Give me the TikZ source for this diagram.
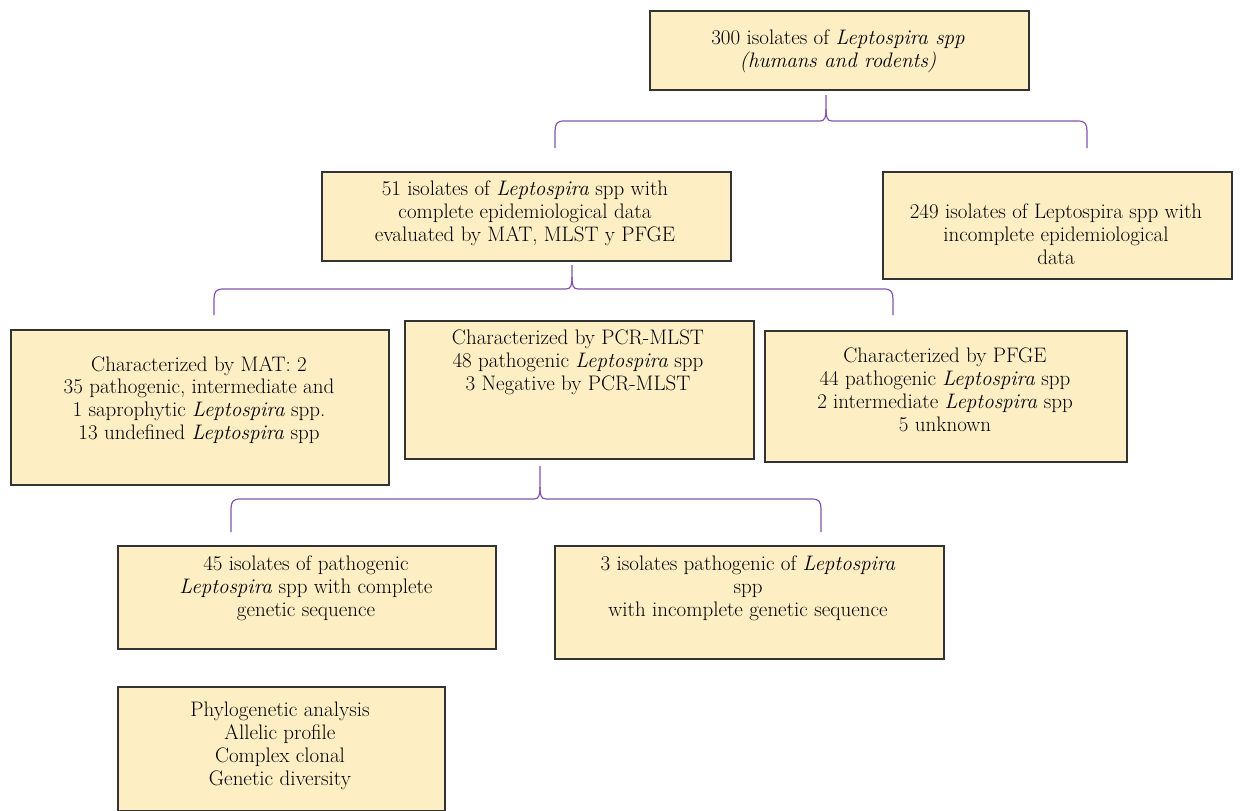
\documentclass[tikz,border=0pt]{standalone}
\usetikzlibrary{calc}
\definecolor{boxfill}{HTML}{FDEEC4}
\definecolor{boxline}{HTML}{333333}
\definecolor{bracecol}{HTML}{7E55AE}
\begin{document}
\begin{tikzpicture}[x=1pt,y=-1pt,
  box/.style={draw=boxline,line width=1.5pt,fill=boxfill,inner sep=0pt,anchor=north west},
  txt/.style={align=center,inner sep=0pt,font=\fontsize{21}{22.8}\selectfont},
  brace/.style={draw=bracecol,line width=1.2pt}]
\useasboundingbox (0,0) rectangle (1259,811);
% boxes
\node[box,minimum width=379pt,minimum height=79pt] (b0) at (649,10) {};
\node[box,minimum width=409pt,minimum height=89pt] (b1) at (321,171) {};
\node[box,minimum width=349pt,minimum height=107pt] (b2) at (882,171) {};
\node[box,minimum width=378pt,minimum height=155pt] (b3) at (10,329) {};
\node[box,minimum width=349pt,minimum height=138pt] (b4) at (404,320) {};
\node[box,minimum width=362pt,minimum height=131pt] (b5) at (764,330) {};
\node[box,minimum width=378pt,minimum height=103pt] (b6) at (117,545) {};
\node[box,minimum width=389pt,minimum height=113pt] (b7) at (554,545) {};
\node[box,minimum width=327pt,minimum height=124pt] (b8) at (117,686) {};
% texts
\node[txt] (t0) at (838,51) {300 isolates of \textit{Leptospira spp}\\\textit{(humans and rodents)}};
\node[txt] (t1) at (525,213) {51 isolates of \textit{Leptospira} spp with\\complete epidemiological data\\evaluated by MAT, MLST y PFGE};
\node[txt] (t2) at (1056,234) {249 isolates of Leptospira spp with\\incomplete epidemiological\\data};
\node[txt] (t3) at (199,400) {Characterized by MAT: 2\\35 pathogenic, intermediate and\\1 saprophytic \textit{Leptospira} spp.\\13 undefined \textit{Leptospira} spp};
\node[txt] (t4) at (578,362) {Characterized by PCR-MLST\\48 pathogenic \textit{Leptospira} spp\\3 Negative by PCR-MLST};
\node[txt] (t5) at (945,390) {Characterized by PFGE\\44 pathogenic \textit{Leptospira} spp\\2 intermediate \textit{Leptospira} spp\\5 unknown};
\node[txt] (t6) at (306,588) {45 isolates of pathogenic\\\textit{Leptospira} spp with complete\\genetic sequence};
\node[txt] (t7) at (748,588) {3 isolates pathogenic of \textit{Leptospira}\\spp\\with incomplete genetic sequence};
\node[txt] (t8) at (280,746) {Phylogenetic analysis\\Allelic profile\\Complex clonal\\Genetic diversity};
% braces
\newcommand{\mybrace}[6]{% cx, ty, hy, xl, xr, by
  \draw[brace] (#4,#6) -- (#4,#3+10) .. controls (#4,#3+3) and (#4+2,#3) .. (#4+9,#3)
    -- (#1-6,#3) .. controls (#1-1,#3) and (#1,#3-4) .. (#1,#3-12) -- (#1,#2);
  \draw[brace] (#5,#6) -- (#5,#3+10) .. controls (#5,#3+3) and (#5-2,#3) .. (#5-9,#3)
    -- (#1+6,#3) .. controls (#1+1,#3) and (#1,#3-4) .. (#1,#3-12);
}
\mybrace{826}{95}{121}{555}{1087}{148}
\mybrace{572}{265}{289}{214}{893}{315}
\mybrace{540}{466}{499}{231}{821}{532}
\end{tikzpicture}
\end{document}
